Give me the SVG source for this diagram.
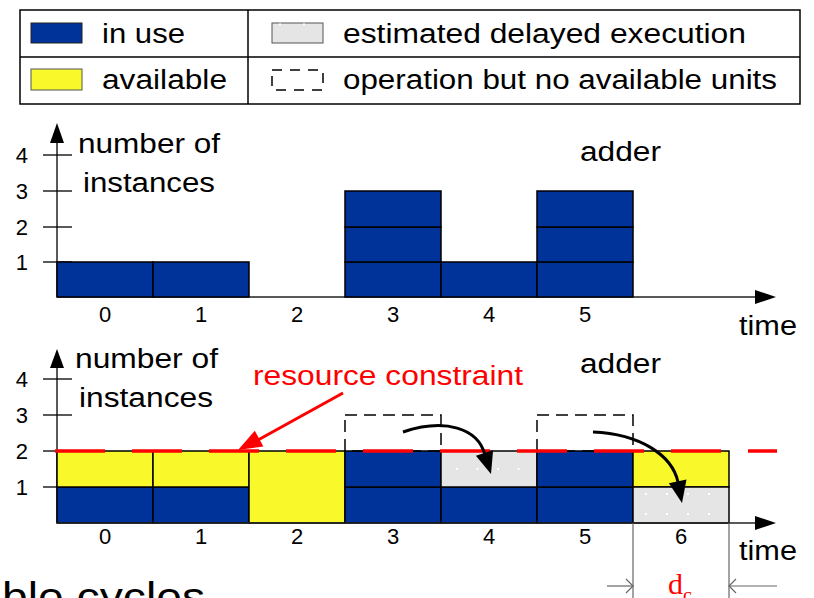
<svg xmlns="http://www.w3.org/2000/svg" width="814" height="598" viewBox="0 0 814 598">
  <style>
    text { font-family: "Liberation Sans", Arial, sans-serif; fill: #000; }
    .lbl { font-size: 27px; }
    .num { font-size: 22px; }
    .cell { stroke: #000; stroke-width: 1.5; }
    .use { fill: #003399; }
    .avail { fill: #f8f82a; }
    .delay { fill: #e5e5e5; }
    .axis { stroke: #222; stroke-width: 1.5; fill: none; }
    .tick { stroke: #000; stroke-width: 1.3; }
    .pending { fill: none; stroke: #000; stroke-width: 1.5; stroke-dasharray: 12 7; }
    .dots { stroke: #fff; stroke-width: 2; stroke-dasharray: 2 19; }
    .move { fill: none; stroke: #000; stroke-width: 3; }
    .dim { stroke: #666; stroke-width: 1.2; fill: none; }
  </style>

  <!-- legend -->
  <g id="legend">
    <rect x="20" y="10" width="780" height="94" fill="#fff" stroke="#000" stroke-width="1.5"/>
    <line x1="20" y1="57" x2="800" y2="57" stroke="#000" stroke-width="1.5"/>
    <line x1="248" y1="10" x2="248" y2="104" stroke="#000" stroke-width="1.5"/>
    <rect x="31" y="23" width="51" height="20" class="use" stroke="#222" stroke-width="1"/>
    <text class="lbl" x="102" y="43" textLength="83" lengthAdjust="spacingAndGlyphs">in use</text>
    <rect x="31" y="69" width="51" height="21" class="avail" stroke="#555" stroke-width="1"/>
    <text class="lbl" x="102" y="89" textLength="125" lengthAdjust="spacingAndGlyphs">available</text>
    <rect x="272" y="23" width="51" height="20" class="delay" stroke="#555" stroke-width="1"/>
    <line x1="279" y1="24.5" x2="305" y2="24.5" class="dots" style="stroke-dasharray:2 22"/>
    <text class="lbl" x="343" y="43" textLength="403" lengthAdjust="spacingAndGlyphs">estimated delayed execution</text>
    <rect x="272" y="70" width="51" height="20" class="pending" style="stroke-dasharray:10 8"/>
    <text class="lbl" x="343" y="89" textLength="434" lengthAdjust="spacingAndGlyphs">operation but no available units</text>
  </g>

  <!-- upper chart: unconstrained schedule -->
  <g id="chart-top">
    <g id="top-axes">
      <line x1="57" y1="297" x2="57" y2="140" class="axis"/>
      <polygon points="57,123 50,143 64,143" fill="#000"/>
      <line x1="57" y1="297" x2="756" y2="297" class="axis"/>
      <polygon points="776,297 755,290 755,304" fill="#000"/>
      <line x1="43" y1="155" x2="72" y2="155" class="tick"/>
      <line x1="43" y1="191" x2="72" y2="191" class="tick"/>
      <line x1="43" y1="227" x2="72" y2="227" class="tick"/>
      <line x1="43" y1="262" x2="72" y2="262" class="tick"/>
      <g class="num" text-anchor="end">
        <text x="28" y="163">4</text>
        <text x="28" y="199">3</text>
        <text x="28" y="235">2</text>
        <text x="28" y="270">1</text>
      </g>
      <g class="num" text-anchor="middle">
        <text x="105" y="322">0</text>
        <text x="201" y="322">1</text>
        <text x="297" y="322">2</text>
        <text x="393" y="322">3</text>
        <text x="489" y="322">4</text>
        <text x="585" y="322">5</text>
      </g>
      <text class="lbl" x="78" y="153" textLength="142" lengthAdjust="spacingAndGlyphs">number of</text>
      <text class="lbl" x="83" y="192" textLength="132" lengthAdjust="spacingAndGlyphs">instances</text>
      <text class="lbl" x="580" y="161" textLength="81" lengthAdjust="spacingAndGlyphs">adder</text>
      <text class="lbl" x="739" y="335" textLength="58" lengthAdjust="spacingAndGlyphs">time</text>
    </g>
    <g id="top-bars" class="cell">
      <rect x="57" y="262" width="96" height="35" class="use"/>
      <rect x="153" y="262" width="96" height="35" class="use"/>
      <rect x="345" y="262" width="96" height="35" class="use"/>
      <rect x="345" y="227" width="96" height="35" class="use"/>
      <rect x="345" y="191" width="96" height="36" class="use"/>
      <rect x="441" y="262" width="96" height="35" class="use"/>
      <rect x="537" y="262" width="96" height="35" class="use"/>
      <rect x="537" y="227" width="96" height="35" class="use"/>
      <rect x="537" y="191" width="96" height="36" class="use"/>
    </g>
  </g>

  <!-- lower chart: schedule under the resource limit -->
  <g id="chart-bottom">
    <g id="bottom-axes">
      <line x1="57" y1="523" x2="57" y2="366" class="axis"/>
      <polygon points="57,349 50,368 64,368" fill="#000"/>
      <line x1="43" y1="379" x2="72" y2="379" class="tick"/>
      <line x1="43" y1="415" x2="72" y2="415" class="tick"/>
      <line x1="43" y1="451" x2="72" y2="451" class="tick"/>
      <line x1="43" y1="487" x2="72" y2="487" class="tick"/>
      <g class="num" text-anchor="end">
        <text x="28" y="387">4</text>
        <text x="28" y="423">3</text>
        <text x="28" y="459">2</text>
        <text x="28" y="495">1</text>
      </g>
      <text class="lbl" x="75" y="368" textLength="143" lengthAdjust="spacingAndGlyphs">number of</text>
      <text class="lbl" x="79" y="407" textLength="134" lengthAdjust="spacingAndGlyphs">instances</text>
      <text class="lbl" x="580" y="373" textLength="81" lengthAdjust="spacingAndGlyphs">adder</text>
    </g>
    <g id="bottom-cells" class="cell">
      <rect x="57" y="487" width="96" height="36" class="use"/>
      <rect x="57" y="451" width="96" height="36" class="avail"/>
      <rect x="153" y="487" width="96" height="36" class="use"/>
      <rect x="153" y="451" width="96" height="36" class="avail"/>
      <rect x="249" y="451" width="96" height="72" class="avail"/>
      <rect x="345" y="487" width="96" height="36" class="use"/>
      <rect x="345" y="451" width="96" height="36" class="use"/>
      <rect x="441" y="487" width="96" height="36" class="use"/>
      <rect x="441" y="451" width="96" height="36" class="delay"/>
      <rect x="537" y="487" width="96" height="36" class="use"/>
      <rect x="537" y="451" width="96" height="36" class="use"/>
      <rect x="633" y="451" width="96" height="36" class="avail"/>
      <rect x="633" y="487" width="96" height="36" class="delay"/>
    </g>
    <g id="delay-dots" class="dots">
      <line x1="456" y1="469" x2="522" y2="469" style="stroke-dasharray:2 18.5"/>
      <line x1="645" y1="494" x2="712" y2="494" style="stroke-dasharray:2 19"/>
      <line x1="645" y1="514" x2="712" y2="514" style="stroke-dasharray:2 19"/>
    </g>
    <g id="time-axis">
      <line x1="57" y1="523" x2="756" y2="523" class="axis"/>
      <polygon points="776,523 755,516 755,530" fill="#000"/>
      <g class="num" text-anchor="middle">
        <text x="105" y="544">0</text>
        <text x="201" y="544">1</text>
        <text x="297" y="544">2</text>
        <text x="393" y="544">3</text>
        <text x="489" y="544">4</text>
        <text x="585" y="544">5</text>
        <text x="681" y="544">6</text>
      </g>
      <text class="lbl" x="739" y="560" textLength="58" lengthAdjust="spacingAndGlyphs">time</text>
    </g>
    <!-- operations that found no free unit -->
    <g id="pending-ops">
      <rect x="345" y="415" width="96" height="36" class="pending"/>
      <rect x="537" y="415" width="96" height="36" class="pending"/>
    </g>
    <!-- resource limit -->
    <g id="constraint">
      <line x1="55" y1="451" x2="777" y2="451" stroke="#ff0000" stroke-width="3.5" stroke-dasharray="50 27"/>
      <text x="253" y="385" font-size="27" fill="#ff0000" style="fill:#ff0000" textLength="270" lengthAdjust="spacingAndGlyphs">resource constraint</text>
      <line x1="343" y1="393" x2="258" y2="440" stroke="#ff0000" stroke-width="3"/>
      <polygon points="238,450 263.4,446.5 254.8,430.7" fill="#ff0000"/>
    </g>
  </g>

  <!-- connectors: postponed operations -->
  <g id="connectors">
    <path d="M403,432 C445,418 478,428 485,455" class="move"/>
    <polygon points="491,474 493.1,450.3 475.9,455.7" fill="#000"/>
    <path d="M593,432 C640,434 672,455 678,482" class="move"/>
    <polygon points="682,503 686.5,479.6 668.9,483.2" fill="#000"/>
  </g>

  <!-- cycle length dimension -->
  <g id="cycle-dim">
    <line x1="633" y1="523" x2="633" y2="598" class="dim"/>
    <line x1="729" y1="523" x2="729" y2="598" class="dim"/>
    <line x1="607" y1="586" x2="633" y2="586" class="dim"/>
    <polyline points="626,579 633,586 626,593" class="dim"/>
    <line x1="777" y1="586" x2="729" y2="586" class="dim"/>
    <polyline points="736,579 729,586 736,593" class="dim"/>
    <text x="668" y="594" font-family="Liberation Serif, serif" font-size="30" style="font-family:'Liberation Serif',serif;fill:#ff0000">d<tspan font-size="20" dy="8">c</tspan></text>
  </g>

  <text x="2" y="611" font-size="40" textLength="203" lengthAdjust="spacingAndGlyphs">ble cycles</text>
</svg>
